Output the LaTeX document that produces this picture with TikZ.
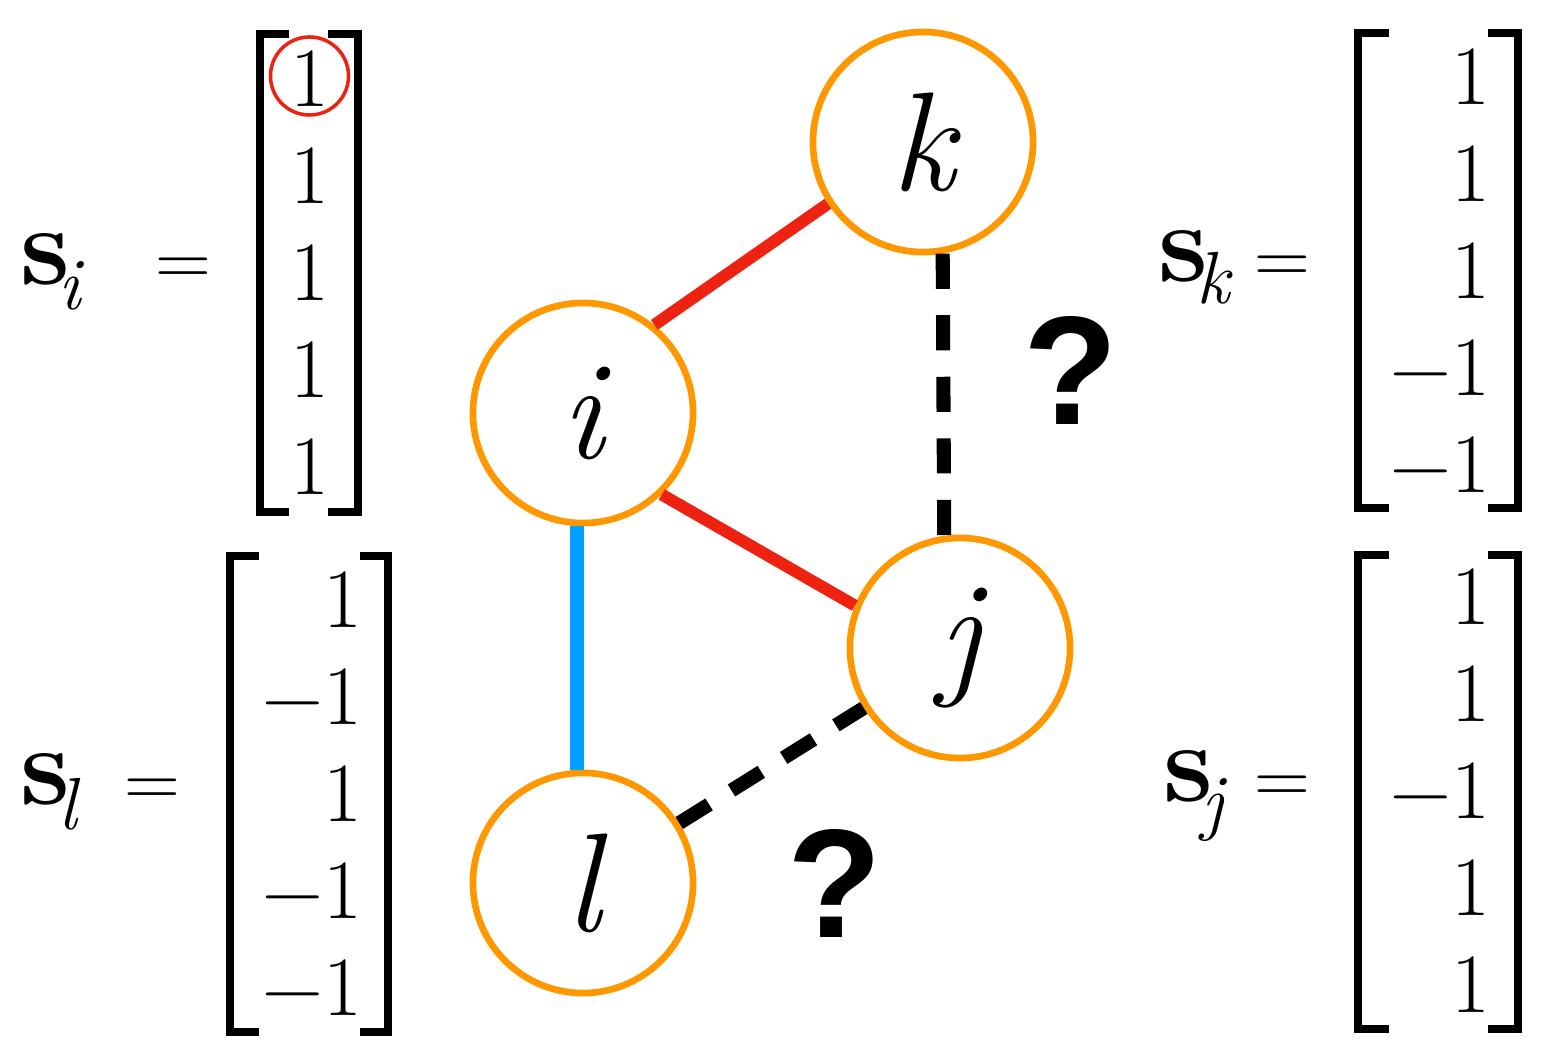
\documentclass[tikz,border=0pt]{standalone}
\usepackage{fontspec}
\newfontfamily\qfont{Liberation Sans}
\definecolor{nodeorange}{RGB}{255,152,0}
\definecolor{edgered}{RGB}{238,34,17}
\definecolor{edgeblue}{RGB}{0,160,255}
\newcommand{\vecsub}[2]{{\bfseries\fontsize{32}{36}\selectfont s}\kern-3.5pt\raisebox{-#2}{\itshape\fontsize{21}{24}\selectfont #1}}
\begin{document}
\begin{tikzpicture}[x=0.01cm,y=-0.01cm,
  vtx/.style={circle, draw=nodeorange, line width=1.9pt, minimum size=2.20cm, inner sep=0pt, font=\itshape\fontsize{40}{48}\selectfont},
  entry/.style={inner sep=0pt, font=\fontsize{24}{28}\selectfont},
  lbl/.style={inner sep=0pt, anchor=base west},
  eqsign/.style={inner sep=0pt, font=\fontsize{22}{26}\selectfont},
  qmark/.style={inner sep=0pt, anchor=base, font=\qfont\bfseries\fontsize{44}{50}\selectfont},
  brk/.style={line width=2pt, line cap=rect, line join=miter},
  rededge/.style={edgered, line width=3.4pt},
  blueedge/.style={edgeblue, line width=4.2pt},
  dashedge/.style={black, line width=4pt, dash pattern=on 10pt off 7.5pt}
]
\useasboundingbox (0,0) rectangle (1547,1061);

% vertices
\node[vtx] (k) at (923,142) {k};
\node[vtx] (i) at (583,413) {i};
\node[vtx] (j) at (960,648) {j};
\node[vtx] (l) at (583,883) {l};

% edges
\draw[rededge] (i.51) -- (k.213);
\draw[rededge] (i.-46) -- (j.158);
\draw[blueedge] (i.-93) -- (l.93);
\draw[dashedge] (k.-80) -- (j.98);
\draw[dashedge] (l) -- (j);

% question marks
\node[qmark] (q1) at (1071,425) {?};
\node[qmark] (q2) at (835,938) {?};

% ---- s_i ----
\node[lbl] (si) at (20,285) {\vecsub{i}{7pt}};
\node[eqsign] (eqi) at (183,272) {=};
\draw[brk] (285,34) -- (260,34) -- (260,512) -- (285,512);
\draw[brk] (332,34) -- (358,34) -- (358,512) -- (332,512);
\node[entry, anchor=base] (si1) at (310,107) {1};
\node[entry, anchor=base] (si2) at (310,204) {1};
\node[entry, anchor=base] (si3) at (310,301) {1};
\node[entry, anchor=base] (si4) at (310,398) {1};
\node[entry, anchor=base] (si5) at (310,495) {1};
\node[circle, draw=edgered, line width=1pt, minimum size=0.78cm, inner sep=0pt] (ring) at (309.5,76) {};

% ---- s_k ----
\node[lbl] (sk) at (1158,282) {\vecsub{k}{6pt}};
\node[eqsign] (eqk) at (1282,270) {=};
\draw[brk] (1385,33) -- (1358,33) -- (1358,508) -- (1385,508);
\draw[brk] (1492,33) -- (1518,33) -- (1518,508) -- (1492,508);
\node[entry, anchor=base east] (sk1) at (1491,105) {1};
\node[entry, anchor=base east] (sk2) at (1491,202) {1};
\node[entry, anchor=base east] (sk3) at (1491,299) {1};
\node[entry, anchor=base east] (sk4) at (1491,396) {−1};
\node[entry, anchor=base east] (sk5) at (1491,493) {−1};

% ---- s_l ----
\node[lbl] (sl) at (20,805) {\vecsub{l}{7pt}};
\node[eqsign] (eql) at (152,793) {=};
\draw[brk] (255,556) -- (230,556) -- (230,1032) -- (255,1032);
\draw[brk] (364,556) -- (388,556) -- (388,1032) -- (364,1032);
\node[entry, anchor=base east] (sl1) at (363,628) {1};
\node[entry, anchor=base east] (sl2) at (363,725) {−1};
\node[entry, anchor=base east] (sl3) at (363,822) {1};
\node[entry, anchor=base east] (sl4) at (363,919) {−1};
\node[entry, anchor=base east] (sl5) at (363,1016) {−1};

% ---- s_j ----
\node[lbl] (sj) at (1163,802) {\vecsub{j}{7pt}};
\node[eqsign] (eqj) at (1282,790) {=};
\draw[brk] (1385,555) -- (1358,555) -- (1358,1029) -- (1385,1029);
\draw[brk] (1492,555) -- (1518,555) -- (1518,1029) -- (1492,1029);
\node[entry, anchor=base east] (sj1) at (1491,625) {1};
\node[entry, anchor=base east] (sj2) at (1491,722) {1};
\node[entry, anchor=base east] (sj3) at (1491,819) {−1};
\node[entry, anchor=base east] (sj4) at (1491,916) {1};
\node[entry, anchor=base east] (sj5) at (1491,1013) {1};
\end{tikzpicture}
\end{document}
